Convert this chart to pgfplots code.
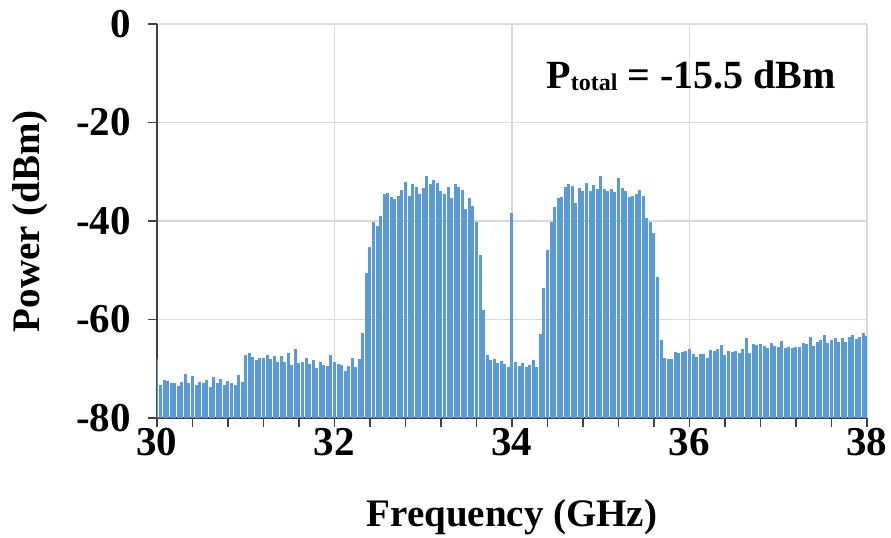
\documentclass[border=0pt]{standalone}
\usepackage{fontspec}
\setmainfont{Liberation Serif}
\usepackage{pgfplots}
\pgfplotsset{compat=1.18}
\definecolor{barblue}{HTML}{5B9BD5}
\definecolor{gridgray}{HTML}{D9D9D9}
\definecolor{axgray}{HTML}{404040}
\newcommand{\lblfont}{\fontsize{19.5}{22}\selectfont\bfseries}
\newcommand{\tickfont}{\fontsize{20.5}{22}\selectfont\bfseries}

\begin{document}
\begin{tikzpicture}
\begin{axis}[
  scale only axis, width=355pt, height=197pt,
  xmin=30, xmax=38, ymin=-80, ymax=0,
  axis lines*=left,
  axis line style={axgray, line width=0.8pt},
  xtick={30,32,...,38}, ytick={-80,-60,...,0},
  minor x tick num=4,
  tick align=outside, major tick length=4.5pt, minor tick length=4.5pt,
  tick style={axgray, line width=0.8pt},
  grid=major, major grid style={gridgray, line width=0.6pt},
  tick label style={font=\tickfont},
  /pgf/number format/assume math mode=true,
  xticklabel style={yshift=3pt},
  yticklabel style={xshift=-5pt},
  xlabel={Frequency (GHz)}, ylabel={Power (dBm)},
  every axis x label/.style={at={(axis description cs:0.5,0)}, anchor=center, yshift=-49.5pt, font=\lblfont},
  every axis y label/.style={at={(axis description cs:0,0.5)}, anchor=center, rotate=90, yshift=63.5pt, font=\lblfont},
]
% spectrum lines, drawn down to the -80 dBm floor
\addplot[draw=barblue, quiver={u=0, v=-80-y,
    every arrow/.append style={line width=1.5pt, line cap=butt}}] coordinates {
(30.00,-68.0)(30.04,-73.3)(30.08,-72.3)(30.12,-72.5)(30.16,-72.9)(30.20,-72.9)(30.24,-73.5)(30.28,-72.7)
(30.32,-71.1)(30.36,-72.9)(30.40,-71.5)(30.44,-73.2)(30.48,-72.7)(30.52,-72.9)(30.56,-72.3)(30.60,-73.7)
(30.64,-71.7)(30.68,-72.9)(30.72,-72.0)(30.76,-73.2)(30.80,-72.5)(30.84,-72.9)(30.88,-73.3)(30.92,-71.3)
(30.96,-72.7)(31.00,-67.2)(31.04,-66.8)(31.08,-67.6)(31.12,-68.2)(31.16,-67.8)(31.20,-67.8)(31.24,-67.2)
(31.28,-68.0)(31.32,-67.5)(31.36,-68.6)(31.40,-67.5)(31.44,-68.6)(31.48,-66.8)(31.52,-69.2)(31.56,-66.0)
(31.60,-68.8)(31.64,-68.6)(31.68,-67.8)(31.72,-69.0)(31.76,-68.2)(31.80,-69.8)(31.84,-68.6)(31.88,-69.2)
(31.92,-69.4)(31.96,-67.2)(32.00,-68.6)(32.04,-69.0)(32.08,-69.2)(32.12,-70.4)(32.16,-69.4)(32.20,-67.8)
(32.24,-69.6)(32.28,-68.0)(32.32,-62.7)(32.36,-50.6)(32.40,-45.3)(32.44,-40.2)(32.48,-41.0)(32.52,-39.0)
(32.56,-34.6)(32.60,-34.4)(32.64,-35.2)(32.68,-35.6)(32.72,-35.0)(32.76,-33.7)(32.80,-32.0)(32.84,-35.0)
(32.88,-32.5)(32.92,-33.0)(32.96,-34.5)(33.00,-33.4)(33.04,-30.9)(33.08,-32.5)(33.12,-31.7)(33.16,-32.3)
(33.20,-34.0)(33.24,-34.5)(33.28,-33.0)(33.32,-35.4)(33.36,-32.5)(33.40,-33.0)(33.44,-33.7)(33.48,-37.5)
(33.52,-35.4)(33.56,-37.0)(33.60,-40.2)(33.64,-47.0)(33.68,-58.0)(33.72,-67.2)(33.76,-68.2)(33.80,-68.0)
(33.84,-68.8)(33.88,-68.4)(33.92,-69.0)(33.96,-69.6)(34.00,-38.4)(34.04,-68.6)(34.08,-69.4)(34.12,-68.8)
(34.16,-69.6)(34.20,-69.2)(34.24,-68.2)(34.28,-69.6)(34.32,-63.0)(34.36,-53.6)(34.40,-45.9)(34.44,-40.2)
(34.48,-37.1)(34.52,-35.4)(34.56,-35.1)(34.60,-33.0)(34.64,-32.5)(34.68,-32.8)(34.72,-36.4)(34.76,-33.3)
(34.80,-34.0)(34.84,-32.3)(34.88,-34.0)(34.92,-32.7)(34.96,-33.5)(35.00,-30.9)(35.04,-33.5)(35.08,-34.0)
(35.12,-33.6)(35.16,-34.2)(35.20,-31.3)(35.24,-33.4)(35.28,-34.0)(35.32,-35.2)(35.36,-35.0)(35.40,-34.6)
(35.44,-33.7)(35.48,-35.0)(35.52,-39.4)(35.56,-40.2)(35.60,-42.5)(35.64,-51.4)(35.68,-64.2)(35.72,-67.8)
(35.76,-68.0)(35.80,-68.0)(35.84,-66.6)(35.88,-66.8)(35.92,-66.6)(35.96,-66.4)(36.00,-66.0)(36.04,-67.0)
(36.08,-67.6)(36.12,-67.0)(36.16,-67.0)(36.20,-67.8)(36.24,-66.2)(36.28,-66.4)(36.32,-66.0)(36.36,-65.2)
(36.40,-67.2)(36.44,-66.4)(36.48,-66.6)(36.52,-66.4)(36.56,-66.8)(36.60,-66.0)(36.64,-63.8)(36.68,-66.8)
(36.72,-65.0)(36.76,-65.2)(36.80,-65.0)(36.84,-65.4)(36.88,-65.8)(36.92,-64.8)(36.96,-65.4)(37.00,-65.6)
(37.04,-64.4)(37.08,-65.8)(37.12,-65.6)(37.16,-65.8)(37.20,-65.6)(37.24,-65.6)(37.28,-64.8)(37.32,-65.0)
(37.36,-63.6)(37.40,-65.4)(37.44,-64.6)(37.48,-64.2)(37.52,-63.1)(37.56,-64.8)(37.60,-64.2)(37.64,-63.8)
(37.68,-64.6)(37.72,-63.8)(37.76,-64.5)(37.80,-63.6)(37.84,-63.1)(37.88,-64.0)(37.92,-63.6)(37.96,-62.7)
(38.00,-63.3)
};
\node[anchor=base, font=\fontsize{20}{24}\selectfont\bfseries] at (axis cs:36.02,-13.0)
  {P{\fontsize{12}{14}\selectfont\raisebox{-1pt}{total}} = -15.5 dBm};
\end{axis}
\pgfresetboundingbox
\path (-78.5pt,-59.5pt) rectangle (367pt,209pt);
\end{tikzpicture}
\end{document}
